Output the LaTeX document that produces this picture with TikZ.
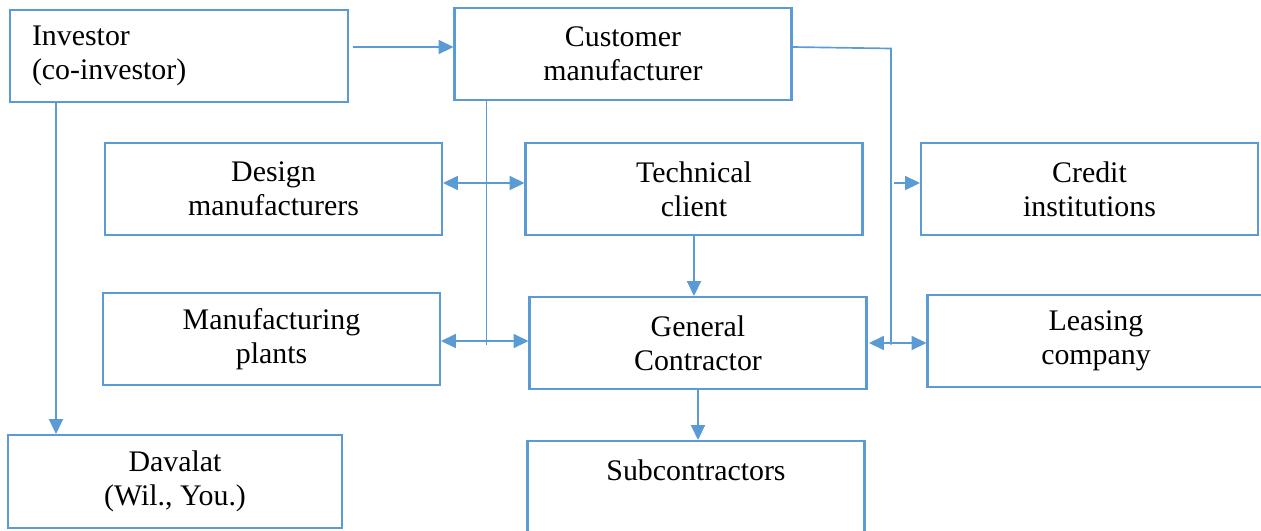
\documentclass[tikz,border=0pt]{standalone}
\usepackage{fontspec}
\setmainfont{Liberation Serif}
\usetikzlibrary{arrows.meta}
\definecolor{boxblue}{HTML}{5B9BD5}

\begin{document}
\begin{tikzpicture}[box/.style={draw=boxblue,line width=1.15pt,minimum width=6.74cm,minimum height=1.84cm,
    align=center,font=\fontsize{17}{19.5}\selectfont},
  link/.style={draw=boxblue,line width=0.95pt},
  >={Triangle[length=8.5pt,width=8pt]}]
  \useasboundingbox (0,0) rectangle (25.22,-10.62);
  \clip (0,0) rectangle (25.22,-10.62);

  % participants
  \node[box,align=left,text width=5.88cm,inner xsep=0.44cm] (inv) at (3.58,-1.12) {Investor\\(co-investor)};
  \node[box] (cust) at (12.46,-1.08) {Customer\\manufacturer};
  \node[box] (des)  at (5.47,-3.78)  {Design\\manufacturers};
  \node[box] (tech) at (13.88,-3.78) {Technical\\client};
  \node[box] (cred) at (21.79,-3.78) {Credit\\institutions};
  \node[box] (man)  at (5.43,-6.78)  {Manufacturing\\plants};
  \node[box] (gen)  at (13.96,-6.86) {General\\Contractor};
  \node[box] (leas) at (21.92,-6.82) {Leasing\\company};
  \node[box,minimum width=6.68cm,minimum height=1.86cm] (dav) at (3.50,-9.63) {Davalat\\(Wil., You.)};
  \node[box] (sub)  at (13.92,-9.74) {Subcontractors\\\mbox{}};

  % links
  \draw[link,->] ([xshift=0.08cm,yshift=0.18cm]inv.east) -- ([yshift=0.14cm]cust.west);
  \draw[link,->] ([xshift=0.94cm]inv.south west) -- ([xshift=0.94cm]inv.south west |- dav.north);
  \draw[link] ([xshift=0.66cm]cust.south west) -- ++(0,-4.88);
  \draw[link,<->] ([yshift=0.12cm]des.east) -- ([yshift=0.12cm]tech.west);
  \draw[link,<->] ([yshift=-0.04cm]man.east) -- ([yshift=0.04cm]gen.west);
  \draw[link,->] (tech.south) -- (tech.south |- gen.north);
  \draw[link,->] (gen.south) -- (gen.south |- sub.north);
  \draw[link] ([yshift=0.14cm]cust.east) -- ++(1.97,-0.03) coordinate (bend) -- ++(0,-5.92);
  \path (cred.west) ++(0,0.12) coordinate (credin);
  \draw[link,->] ([xshift=0.06cm]bend |- credin) -- (credin);
  \draw[link,<->] ([xshift=0.03cm]gen.east) -- (gen.east -| leas.west);
\end{tikzpicture}
\end{document}
